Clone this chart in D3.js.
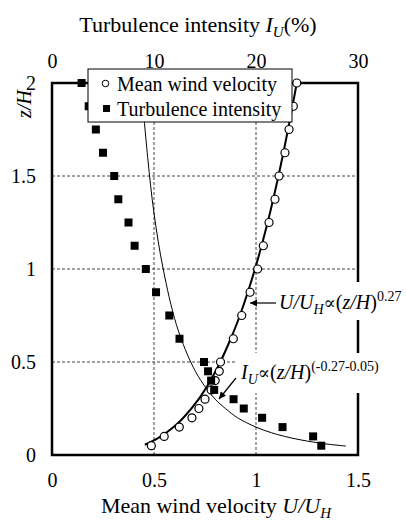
<!DOCTYPE html>
<html>
<head>
<meta charset="utf-8">
<script src="https://cdn.jsdelivr.net/npm/d3@7"></script>
<style>
  body { margin: 0; background: #fff; }
  text { font-family: "Liberation Serif", "Times New Roman", serif; fill: #000; }
</style>
</head>
<body>
<script>
// ---- data ----
const heights = [0.05,0.1,0.15,0.2,0.25,0.3,0.35,0.4,0.45,0.5,0.625,0.75,0.875,1.0,1.125,1.25,1.375,1.5,1.625,1.75,1.875,2.0];
const meanVelocity = [0.487,0.55,0.624,0.686,0.72,0.75,0.78,0.80,0.82,0.826,0.889,0.93,0.971,1.008,1.036,1.064,1.093,1.113,1.142,1.162,1.183,1.20];
const turbulence = [26.4,25.6,22.6,20.6,18.8,17.8,15.9,15.6,15.3,14.9,12.5,11.5,10.2,9.2,8.1,7.5,6.5,6.1,5.0,4.3,3.6,2.9];

// fitted curves
const velocityFitZ = [0.055,0.07,0.1,0.15,0.2,0.3,0.4,0.5,0.625,0.75,1.0,1.25,1.5,1.75,2.0];
const velocityFitU = [0.455,0.485,0.534,0.596,0.644,0.719,0.777,0.825,0.876,0.921,0.995,1.057,1.110,1.157,1.200];
const turbFitZ = [0.048,0.06,0.08,0.1,0.12,0.15,0.2,0.25,0.3,0.4,0.5,0.7,1.0,1.3,1.6,2.0];
const turbFitI = [28.8,26.8,24.5,22.8,21.5,20.0,18.2,17.0,16.0,14.6,13.6,12.2,10.9,10.0,9.38,8.73];

const xTicks = [0,0.5,1,1.5];
const xTopTicks = [0,10,20,30];
const yTicks = [0,0.5,1,1.5,2];
const xGrid = [0.5,1];
const yGrid = [0.5,1,1.5];

// ---- layout ----
const W = 406, H = 521;
const m = {left: 52, right: 48, top: 83, bottom: 66};
const serif = "Liberation Serif, Times New Roman, serif";

const svg = d3.select("body").append("svg").attr("width", W).attr("height", H);

const x = d3.scaleLinear().domain([0,1.5]).range([m.left, W - m.right]);
const xTop = d3.scaleLinear().domain([0,30]).range([m.left, W - m.right]);
const y = d3.scaleLinear().domain([0,2]).range([H - m.bottom, m.top]);

// grid
const grid = svg.append("g").attr("stroke", "#444").attr("stroke-width", 1).attr("stroke-dasharray", "3,2");
grid.selectAll("line.h").data(yGrid).join("line").attr("class","h")
  .attr("x1", x(0)).attr("x2", x(1.5)).attr("y1", d => y(d)).attr("y2", d => y(d));
grid.selectAll("line.v").data(xGrid).join("line").attr("class","v")
  .attr("y1", y(0)).attr("y2", y(2)).attr("x1", d => x(d)).attr("x2", d => x(d));

// axes
const fmt = d => String(d);
const axB = svg.append("g").attr("transform", `translate(0,${y(0)})`)
  .call(d3.axisBottom(x).tickValues(xTicks).tickFormat(fmt).tickSize(0).tickPadding(18));
const axT = svg.append("g").attr("transform", `translate(0,${y(2)})`)
  .call(d3.axisTop(xTop).tickValues(xTopTicks).tickFormat(fmt).tickSize(0).tickPadding(15));
const axL = svg.append("g").attr("transform", `translate(${x(0)},0)`)
  .call(d3.axisLeft(y).tickValues(yTicks).tickFormat(fmt).tickSize(0).tickPadding(16));
[axB, axT, axL].forEach(a => {
  a.attr("font-family", serif).attr("font-size", 20);
  a.select(".domain").remove();
  a.selectAll("text").attr("fill", "#000");
});

// fit curves
const thinLine = d3.line().x((d,i) => xTop(turbFitI[i])).y(d => y(d)).curve(d3.curveCatmullRom);
svg.append("path").attr("d", thinLine(turbFitZ)).attr("fill","none").attr("stroke","#000").attr("stroke-width",1);
const thickLine = d3.line().x((d,i) => x(velocityFitU[i])).y(d => y(d)).curve(d3.curveCatmullRom);
svg.append("path").attr("d", thickLine(velocityFitZ)).attr("fill","none").attr("stroke","#000").attr("stroke-width",2);

// border
svg.append("rect").attr("x", x(0)).attr("y", y(2)).attr("width", x(1.5)-x(0)).attr("height", y(0)-y(2))
  .attr("fill","none").attr("stroke","#000").attr("stroke-width",2.5);

// points
svg.append("g").selectAll("circle").data(heights).join("circle")
  .attr("cx", (d,i) => x(meanVelocity[i])).attr("cy", d => y(d)).attr("r", 4)
  .attr("fill","#fff").attr("stroke","#000").attr("stroke-width",1.2);
const sq = 8;
svg.append("g").selectAll("rect").data(heights).join("rect")
  .attr("x", (d,i) => xTop(turbulence[i]) - sq/2).attr("y", d => y(d) - sq/2)
  .attr("width", sq).attr("height", sq).attr("fill","#000");

// legend
const lg = svg.append("g");
lg.append("rect").attr("x", 88).attr("y", 69).attr("width", 204).attr("height", 53)
  .attr("fill","#fff").attr("stroke","#000").attr("stroke-width",1);
lg.append("circle").attr("cx",105.5).attr("cy",83.5).attr("r",3.3).attr("fill","#fff").attr("stroke","#000").attr("stroke-width",1);
lg.append("rect").attr("x",103).attr("y",105).attr("width",7).attr("height",7).attr("fill","#000");
lg.append("text").attr("x",117).attr("y",90.5).attr("font-size",20).text("Mean wind velocity");
lg.append("text").attr("x",117).attr("y",115.5).attr("font-size",20).text("Turbulence intensity");

// arrow marker
svg.append("defs").append("marker").attr("id","ah").attr("viewBox","0 0 10 10")
  .attr("refX",10).attr("refY",5).attr("markerWidth",9).attr("markerHeight",7)
  .attr("markerUnits","userSpaceOnUse").attr("orient","auto")
  .append("path").attr("d","M0,0 L10,5 L0,10 z").attr("fill","#000");

// builds "<A>_<sub> ∝ (z/H)^<sup>"
function powerLabel(t, main, sub, sup) {
  t.append("tspan").attr("font-style","italic").text(main);
  t.append("tspan").attr("font-style","italic").attr("font-size",14).attr("dy",5).text(sub);
  t.append("tspan").attr("dy",-5).attr("font-family","DejaVu Serif").attr("font-size",18).text("\u221D");
  t.append("tspan").text("(");
  t.append("tspan").attr("font-style","italic").text("z/H");
  t.append("tspan").text(")");
  t.append("tspan").attr("font-size",14).attr("dy",-8).text(sup);
}

// annotation 1
svg.append("rect").attr("x",276).attr("y",282).attr("width",130).attr("height",38).attr("fill","#fff");
svg.append("line").attr("x1",276).attr("y1",303).attr("x2",250).attr("y2",303)
  .attr("stroke","#000").attr("stroke-width",1.2).attr("marker-end","url(#ah)");
powerLabel(svg.append("text").attr("x",279).attr("y",309).attr("font-size",20), "U/U", "H", "0.27");

// annotation 2
svg.append("rect").attr("x",235).attr("y",353).attr("width",160).attr("height",40).attr("fill","#fff");
svg.append("line").attr("x1",236).attr("y1",378).attr("x2",219).attr("y2",399)
  .attr("stroke","#000").attr("stroke-width",1.2).attr("marker-end","url(#ah)");
powerLabel(svg.append("text").attr("x",241).attr("y",379).attr("font-size",20), "I", "U", "(-0.27-0.05)");

// titles
const tt = svg.append("text").attr("x",198).attr("y",32).attr("text-anchor","middle").attr("font-size",22);
tt.append("tspan").text("Turbulence intensity  ");
tt.append("tspan").attr("font-style","italic").text("I");
tt.append("tspan").attr("font-style","italic").attr("font-size",15).attr("dy",5).text("U");
tt.append("tspan").attr("dy",-5).text("(%)");

const bt = svg.append("text").attr("x",216).attr("y",513).attr("text-anchor","middle").attr("font-size",22);
bt.append("tspan").text("Mean wind velocity ");
bt.append("tspan").attr("font-style","italic").text("U/U");
bt.append("tspan").attr("font-style","italic").attr("font-size",15).attr("dy",5).text("H");

svg.append("text").attr("transform","translate(31,104) rotate(-90)").attr("text-anchor","middle")
  .attr("font-size",20).attr("font-style","italic").text("z/H");
</script>
</body>
</html>
